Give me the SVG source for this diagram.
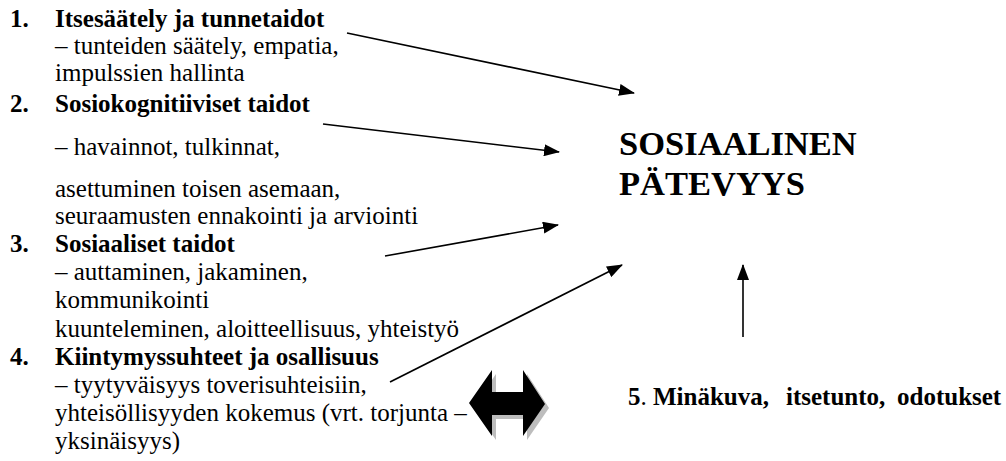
<svg xmlns="http://www.w3.org/2000/svg" width="1006" height="461" viewBox="0 0 1006 461" font-family="'Liberation Serif', 'Times New Roman', serif">
<style>
text{font-family:'Liberation Serif','Times New Roman',serif;font-size:25px;fill:#000}
.b{font-weight:bold}
.big{font-weight:bold;font-size:34.5px}
.conn{stroke:#000;stroke-width:1.6;fill:none;marker-end:url(#ah)}
</style>
<defs>
<marker id="ah" viewBox="0 0 16 12" refX="15" refY="6" markerWidth="16" markerHeight="12" markerUnits="userSpaceOnUse" orient="auto">
<path d="M0,0 L16,6 L0,12 Z" fill="#000"/>
</marker>
</defs>
<rect width="1006" height="461" fill="#fff"/>
<g id="item1">
<text x="10" y="27" class="b">1.</text>
<text x="55" y="27" class="b">Itsesäätely ja tunnetaidot</text>
<text x="55" y="54">– tunteiden säätely, empatia,</text>
<text x="55" y="81">impulssien hallinta</text>
</g>
<g id="item2">
<text x="10" y="112" class="b">2.</text>
<text x="55" y="112" class="b">Sosiokognitiiviset taidot</text>
<text x="55" y="155">– havainnot, tulkinnat,</text>
<text x="55" y="197">asettuminen toisen asemaan,</text>
<text x="55" y="224">seuraamusten ennakointi ja arviointi</text>
</g>
<g id="item3">
<text x="10" y="252" class="b">3.</text>
<text x="55" y="252" class="b">Sosiaaliset taidot</text>
<text x="55" y="280">– auttaminen, jakaminen,</text>
<text x="55" y="308">kommunikointi</text>
<text x="55" y="337">kuunteleminen, aloitteellisuus, yhteistyö</text>
</g>
<g id="item4">
<text x="10" y="365" class="b">4.</text>
<text x="55" y="365" class="b">Kiintymyssuhteet ja osallisuus</text>
<text x="55" y="393">– tyytyväisyys toverisuhteisiin,</text>
<text x="55" y="421">yhteisöllisyyden kokemus (vrt. torjunta –</text>
<text x="55" y="449">yksinäisyys)</text>
</g>
<g id="center">
<text x="619" y="155" class="big">SOSIAALINEN</text>
<text x="619" y="195" class="big">PÄTEVYYS</text>
</g>
<g id="item5">
<text y="405" class="b"><tspan x="628">5</tspan><tspan font-weight="normal">.</tspan><tspan x="653">Minäkuva,</tspan><tspan x="786">itsetunto,</tspan><tspan x="897">odotukset</tspan></text>
</g>
<g id="doublearrow">
<path d="M473,407 L496,374 L496,396 L527,396 L527,374 L549,408 L527,440 L527,419 L496,419 L496,440 Z" fill="#bdbdbd"/>
<path d="M469,403 L492,370 L492,392 L523,392 L523,370 L545,404 L523,436 L523,415 L492,415 L492,436 Z" fill="#000"/>
</g>
<g id="connectors">
<line class="conn" x1="347" y1="33" x2="634" y2="93"/>
<line class="conn" x1="323" y1="124" x2="559" y2="152"/>
<line class="conn" x1="385" y1="256" x2="558" y2="225"/>
<line class="conn" x1="390" y1="382" x2="622" y2="265"/>
<line class="conn" x1="743" y1="337" x2="743" y2="265"/>
</g>
</svg>
